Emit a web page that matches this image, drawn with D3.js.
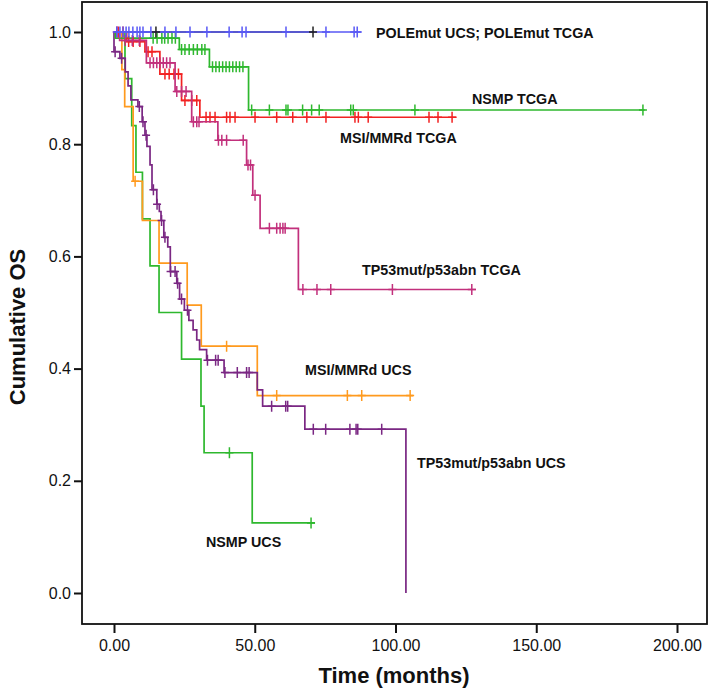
<!DOCTYPE html>
<html>
<head>
<meta charset="utf-8">
<script src="https://cdn.jsdelivr.net/npm/d3@7/dist/d3.min.js"></script>
<style>
  body { margin: 0; background: #fff; }
  text { font-family: "Liberation Sans", Arial, sans-serif; }
</style>
</head>
<body>
<div id="chart"></div>
<script>
// ---- data (months, cumulative survival) ----
const xTicks = [0, 50, 100, 150, 200];
const yTicks = [0, 0.2, 0.4, 0.6, 0.8, 1.0];

// POLEmut UCS (black) - no events
const poleUcsTime = [];
const poleUcsSurv = [];
const poleUcsEnd = 71;
const poleUcsCens = [14.9, 70.7];

// POLEmut TCGA (blue) - no events
const poleTcgaTime = [];
const poleTcgaSurv = [];
const poleTcgaEnd = 88;
const poleTcgaCens = [1.0, 2.1, 3.2, 4.3, 5.3, 6.7, 8.2, 9.2, 10.3, 13.1, 18.1, 22.0, 27.0, 33.0, 40.9, 45.5, 46.9, 61.1, 75.3, 85.3, 86.4];

// NSMP TCGA (green)
const nsmpTcgaTime = [0.5, 23.2, 33.9, 47.8];
const nsmpTcgaSurv = [0.989, 0.969, 0.938, 0.861];
const nsmpTcgaEnd = 188.5;
const nsmpTcgaCens = [13.9, 15.3, 17.0, 18.0, 19.2, 20.6, 21.8, 24.0, 25.2, 26.7, 28.2, 29.6, 31.2, 32.3,
  35.0, 36.2, 37.4, 38.6, 39.8, 41.0, 42.2, 43.4, 44.6, 45.8,
  48.9, 55.2, 61.1, 61.8, 67.0, 70.2, 72.9, 84.1, 85.0, 106.9, 187.9];

// MSI/MMRd TCGA (red)
const msiTcgaTime = [4.5, 11.0, 16.3, 24.0, 30.5];
const msiTcgaSurv = [0.983, 0.965, 0.925, 0.878, 0.848];
const msiTcgaEnd = 121.7;
const msiTcgaCens = [1.5, 3.2, 5.2, 6.8, 9.2, 12.1, 13.5, 18.1, 19.6, 21.3, 22.9, 25.2, 27.6, 29.4,
  32.7, 34.1, 35.9, 40.0, 41.2, 43.0, 50.1, 57.8, 63.5, 68.5, 75.3, 85.6, 86.8, 90.3, 111.9, 115.1, 120.1];

// TP53mut/p53abn TCGA (raspberry)
const p53TcgaTime = [2.0, 11.5, 21.7, 27.6, 36.9, 47.1, 49.3, 51.9, 65.5];
const p53TcgaSurv = [0.985, 0.945, 0.894, 0.840, 0.807, 0.763, 0.709, 0.650, 0.541];
const p53TcgaEnd = 128.6;
const p53TcgaCens = [1.0, 4.0, 6.5, 9.0, 12.8, 14.0, 15.2, 16.3, 17.5, 18.7, 19.9, 22.3, 24.0, 25.6,
  28.2, 29.4, 30.2, 37.1, 38.3, 40.0, 45.9, 47.6, 48.5, 50.1, 55.2, 57.8, 59.0, 60.0, 60.8,
  67.1, 72.1, 77.0, 98.9, 127.1];

// MSI/MMRd UCS (orange)
const msiUcsTime = [2.8, 3.8, 6.8, 10.1, 16.0, 26.0, 31.0, 50.9];
const msiUcsSurv = [0.933, 0.867, 0.734, 0.664, 0.588, 0.513, 0.440, 0.352];
const msiUcsEnd = 106.3;
const msiUcsCens = [7.5, 40.0, 57.8, 82.9, 88.0, 105.2];

// NSMP UCS (green)
const nsmpUcsTime = [3.9, 6.3, 7.8, 10.1, 12.8, 16.0, 24.0, 30.9, 32.0, 49.1];
const nsmpUcsSurv = [0.917, 0.833, 0.750, 0.667, 0.583, 0.500, 0.417, 0.333, 0.250, 0.125];
const nsmpUcsEnd = 71.4;
const nsmpUcsCens = [41.0, 70.0];

// TP53mut/p53abn UCS (purple)
const p53UcsTime = [0, 2.1, 4.0, 5.0, 6.0, 8.5, 10.0, 11.0, 11.7, 12.8, 13.5, 15.2, 16.1, 16.7, 17.7,
  19.1, 20.0, 22.3, 23.3, 25.0, 26.6, 28.1, 29.4, 30.4, 32.9, 39.1, 50.9, 52.8, 67.8, 103.7];
const p53UcsSurv = [0.965, 0.953, 0.929, 0.904, 0.879, 0.867, 0.840, 0.816, 0.796, 0.763, 0.719, 0.693, 0.680, 0.664, 0.634,
  0.617, 0.573, 0.552, 0.524, 0.504, 0.486, 0.469, 0.451, 0.434, 0.415, 0.393, 0.362, 0.333, 0.292, 0.0];
const p53UcsEnd = 103.7;
const p53UcsCens = [0.4, 2.7, 9.0, 10.3, 11.4, 14.0, 15.3, 16.9, 18.1, 20.1, 21.7, 22.6, 24.0, 26.1,
  33.2, 36.1, 37.0, 39.4, 43.8, 47.1, 48.0, 56.0, 61.0, 61.7, 70.8, 75.2, 83.8, 86.0, 86.6, 95.1];

// curve labels
const labelText = ["POLEmut UCS; POLEmut TCGA", "NSMP TCGA", "MSI/MMRd TCGA", "TP53mut/p53abn TCGA",
  "MSI/MMRd UCS", "TP53mut/p53abn UCS", "NSMP UCS"];
const labelX = [376, 472, 340, 362, 305, 417, 206];
const labelY = [37.5, 104, 142.7, 275, 374.5, 467.5, 546.5];

// ---- drawing ----
const W = 709, H = 692;
const svg = d3.select("#chart").append("svg")
  .attr("width", W).attr("height", H);

const x = d3.scaleLinear().domain([0, 200]).range([114, 677]);
const y = d3.scaleLinear().domain([0, 1]).range([593, 32]);

const curves = [
  { time: nsmpUcsTime, surv: nsmpUcsSurv, end: nsmpUcsEnd, cens: nsmpUcsCens, color: "#2eb82e" },
  { time: msiUcsTime, surv: msiUcsSurv, end: msiUcsEnd, cens: msiUcsCens, color: "#ff9a1e" },
  { time: p53UcsTime, surv: p53UcsSurv, end: p53UcsEnd, cens: p53UcsCens, color: "#7a2783" },
  { time: nsmpTcgaTime, surv: nsmpTcgaSurv, end: nsmpTcgaEnd, cens: nsmpTcgaCens, color: "#2eb82e" },
  { time: msiTcgaTime, surv: msiTcgaSurv, end: msiTcgaEnd, cens: msiTcgaCens, color: "#f22222" },
  { time: p53TcgaTime, surv: p53TcgaSurv, end: p53TcgaEnd, cens: p53TcgaCens, color: "#c2307c" },
  { time: poleUcsTime, surv: poleUcsSurv, end: poleUcsEnd, cens: [], color: "#222222" },
  { time: poleTcgaTime, surv: poleTcgaSurv, end: poleTcgaEnd, cens: poleTcgaCens, color: "#5959f5" },
  { time: [], surv: [], end: 0, cens: poleUcsCens, color: "#222222" }
];

const line = d3.line()
  .x(d => x(d[0]))
  .y(d => y(d[1]))
  .curve(d3.curveStepAfter);

function survAt(c, t) {
  let s = 1;
  c.time.forEach((ti, i) => { if (ti <= t) s = c.surv[i]; });
  return s;
}

curves.forEach(c => {
  const g = svg.append("g");
  if (c.end > 0) {
    const pts = [[0, 1]];
    c.time.forEach((t, i) => pts.push([t, c.surv[i]]));
    pts.push([c.end, c.surv.length ? c.surv[c.surv.length - 1] : 1]);
    g.append("path")
      .attr("d", line(pts))
      .attr("fill", "none")
      .attr("stroke", c.color)
      .attr("stroke-width", 1.7);
  }
  g.selectAll("path.cens")
    .data(c.cens)
    .enter()
    .append("path")
    .attr("class", "cens")
    .attr("d", t => {
      const cx = x(t), cy = y(survAt(c, t));
      return `M${cx},${cy - 5.5}V${cy + 5.5}M${cx - 4},${cy}H${cx + 4}`;
    })
    .attr("stroke", c.color)
    .attr("stroke-width", 1.5);
});

// frame
svg.append("rect")
  .attr("x", 82).attr("y", 2)
  .attr("width", 707 - 82).attr("height", 624 - 2)
  .attr("fill", "none")
  .attr("stroke", "#111")
  .attr("stroke-width", 1.8);

// axes
const yAxis = d3.axisLeft(y)
  .tickValues(yTicks)
  .tickFormat(d3.format(".1f"))
  .tickSize(8)
  .tickPadding(3);

const xAxis = d3.axisBottom(x)
  .tickValues(xTicks)
  .tickFormat(d3.format(".2f"))
  .tickSize(9)
  .tickPadding(6.5);

const gy = svg.append("g").attr("transform", "translate(82,0)").call(yAxis);
const gx = svg.append("g").attr("transform", "translate(0,624)").call(xAxis);

[gy, gx].forEach(g => {
  g.select(".domain").remove();
  g.selectAll(".tick line").attr("stroke", "#111").attr("stroke-width", 2);
  g.selectAll(".tick text")
    .attr("fill", "#111")
    .style("font-size", "16px")
    .style("font-family", "'Liberation Sans', Arial, sans-serif");
});

// axis titles
svg.append("text")
  .attr("x", 394).attr("y", 683)
  .attr("text-anchor", "middle")
  .style("font-size", "22px")
  .style("font-weight", "bold")
  .attr("fill", "#111")
  .text("Time (months)");

svg.append("text")
  .attr("transform", "translate(25,327) rotate(-90)")
  .attr("text-anchor", "middle")
  .style("font-size", "22px")
  .style("font-weight", "bold")
  .attr("fill", "#111")
  .text("Cumulative OS");

// curve labels
svg.selectAll("text.lab")
  .data(labelText)
  .enter()
  .append("text")
  .attr("class", "lab")
  .attr("x", (d, i) => labelX[i])
  .attr("y", (d, i) => labelY[i])
  .style("font-size", "14.3px")
  .style("font-weight", "bold")
  .attr("fill", "#111")
  .text(d => d);
</script>
</body>
</html>
